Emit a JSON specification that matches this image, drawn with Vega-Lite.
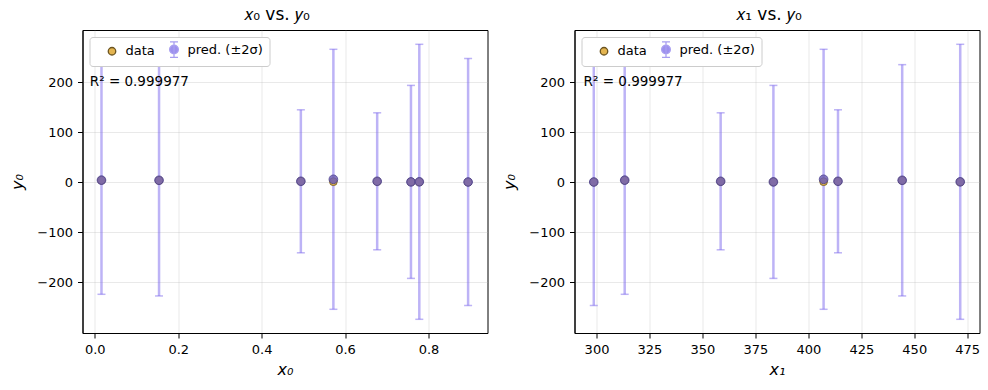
{
  "$schema": "https://vega.github.io/schema/vega-lite/v6.json",
  "background": "white",
  "padding": {"left": 8.5, "top": 5, "right": 5, "bottom": 3},
  "datasets": {
    "pts": [
      {"x0": 0.016, "x1": 313.3, "y": 4.0, "pred": 4.3, "err": 228.3},
      {"x0": 0.154, "x1": 444.3, "y": 3.8, "pred": 4.0, "err": 231.3},
      {"x0": 0.494, "x1": 414.0, "y": 2.0, "pred": 2.0, "err": 143.0},
      {"x0": 0.572, "x1": 407.2, "y": 1.2, "pred": 6.0, "err": 260.0},
      {"x0": 0.677, "x1": 358.6, "y": 1.8, "pred": 2.0, "err": 137.0},
      {"x0": 0.758, "x1": 383.5, "y": 0.8, "pred": 0.8, "err": 193.0},
      {"x0": 0.778, "x1": 471.7, "y": 0.8, "pred": 1.0, "err": 275.0},
      {"x0": 0.895, "x1": 298.7, "y": 0.4, "pred": 0.6, "err": 247.0}
    ],
    "keys": [{"k": "data"}, {"k": "pred. (±2σ)"}],
    "note": [{"label": "R² = 0.999977"}]
  },
  "config": {
    "font": "DejaVu Sans",
    "view": {"stroke": "black", "strokeWidth": 1},
    "axis": {
      "domainColor": "black", "tickColor": "black", "labelColor": "black",
      "labelFont": "DejaVu Sans", "labelFontSize": 13, "tickSize": 5, "labelPadding": 5,
      "gridColor": "#b0b0b0", "gridOpacity": 0.35, "gridWidth": 0.8,
      "titleFont": "DejaVu Sans", "titleFontSize": 16, "titleFontWeight": "normal",
      "titleColor": "black", "titleFontStyle": "italic"
    },
    "axisY": {"titlePadding": 11},
    "axisX": {"titlePadding": 5},
    "title": {"font": "DejaVu Sans", "fontSize": 17, "fontWeight": "normal", "color": "black", "offset": 6, "frame": "group", "dx": -8},
    "legend": {
      "orient": "top-left", "direction": "horizontal", "offset": 7, "padding": 6,
      "strokeColor": "#cccccc", "cornerRadius": 3, "fillColor": "white",
      "labelFont": "DejaVu Sans", "labelFontSize": 13, "labelColor": "black",
      "symbolSize": 100, "columnPadding": 2, "symbolOpacity": 1, "symbolOffset": 10, "labelOffset": 7,
      "symbolStrokeWidth": 1.3
    }
  },
  "resolve": {
    "scale": {"fill": "independent", "stroke": "independent", "shape": "independent"},
    "legend": {"fill": "independent", "stroke": "independent", "shape": "independent"}
  },
  "spacing": 12,
  "hconcat": [
    {
      "width": 405, "height": 303,
      "title": "𝑥₀ vs. 𝑦₀",
      "data": {"name": "pts"},
      "layer": [
        {
          "mark": {"type": "errorbar", "color": "#7b68ee", "opacity": 0.5, "thickness": 2.5, "ticks": {"size": 8, "thickness": 1.5}},
          "encoding": {
            "x": {"field": "x0", "type": "quantitative", "scale": {"domain": [-0.0295, 0.9415], "nice": false, "zero": false},
                  "axis": {"values": [0, 0.2, 0.4, 0.6, 0.8], "format": ".1f", "title": "x₀", "grid": true}},
            "y": {"field": "pred", "type": "quantitative", "scale": {"domain": [-301.4, 304.6], "nice": false},
                  "axis": {"values": [-200, -100, 0, 100, 200], "title": "y₀", "grid": true}},
            "yError": {"field": "err"}
          }
        },
        {
          "mark": {"type": "point", "filled": true, "size": 60, "opacity": 1, "fill": "#e3b450", "stroke": "#6b5420", "strokeWidth": 0.8},
          "encoding": {
            "x": {"field": "x0", "type": "quantitative"},
            "y": {"field": "y", "type": "quantitative"}
          }
        },
        {
          "mark": {"type": "point", "filled": true, "size": 75, "opacity": 0.85, "fill": "#6f5fb5", "stroke": "#4b3f8f", "strokeWidth": 1},
          "encoding": {
            "x": {"field": "x0", "type": "quantitative"},
            "y": {"field": "pred", "type": "quantitative"}
          }
        },
        {
          "data": {"name": "keys"},
          "mark": {"type": "point", "filled": true, "opacity": 0},
          "encoding": {
            "fill": {"field": "k", "type": "nominal", "scale": {"domain": ["data", "pred. (±2σ)"], "range": ["#e3b450", "#9d90ee"]}, "legend": {"title": null}},
            "stroke": {"field": "k", "type": "nominal", "scale": {"domain": ["data", "pred. (±2σ)"], "range": ["#6b5420", "#a89ef0"]}, "legend": {"title": null}},
            "shape": {"field": "k", "type": "nominal", "scale": {"domain": ["data", "pred. (±2σ)"], "range": ["M-0.75,0A0.75,0.75 0 1,1 0.75,0A0.75,0.75 0 1,1 -0.75,0Z", "M-0.87,0A0.87,0.87 0 1,1 0.87,0A0.87,0.87 0 1,1 -0.87,0ZM0,-1.55V1.55M-0.8,-1.55H0.8M-0.8,1.55H0.8"]}, "legend": {"title": null}}
          }
        },
        {
          "data": {"name": "note"},
          "mark": {"type": "text", "align": "left", "baseline": "middle", "fontSize": 13.5, "color": "black"},
          "encoding": {
            "x": {"datum": -0.012, "type": "quantitative"},
            "y": {"datum": 200, "type": "quantitative"},
            "text": {"field": "label"}
          }
        }
      ]
    },
    {
      "width": 405, "height": 303,
      "title": "𝑥₁ vs. 𝑦₀",
      "data": {"name": "pts"},
      "layer": [
        {
          "mark": {"type": "errorbar", "color": "#7b68ee", "opacity": 0.5, "thickness": 2.5, "ticks": {"size": 8, "thickness": 1.5}},
          "encoding": {
            "x": {"field": "x1", "type": "quantitative", "scale": {"domain": [289.6, 480.8], "nice": false, "zero": false},
                  "axis": {"values": [300, 325, 350, 375, 400, 425, 450, 475], "title": "x₁", "grid": true}},
            "y": {"field": "pred", "type": "quantitative", "scale": {"domain": [-301.4, 304.6], "nice": false},
                  "axis": {"values": [-200, -100, 0, 100, 200], "title": "y₀", "grid": true}},
            "yError": {"field": "err"}
          }
        },
        {
          "mark": {"type": "point", "filled": true, "size": 60, "opacity": 1, "fill": "#e3b450", "stroke": "#6b5420", "strokeWidth": 0.8},
          "encoding": {
            "x": {"field": "x1", "type": "quantitative"},
            "y": {"field": "y", "type": "quantitative"}
          }
        },
        {
          "mark": {"type": "point", "filled": true, "size": 75, "opacity": 0.85, "fill": "#6f5fb5", "stroke": "#4b3f8f", "strokeWidth": 1},
          "encoding": {
            "x": {"field": "x1", "type": "quantitative"},
            "y": {"field": "pred", "type": "quantitative"}
          }
        },
        {
          "data": {"name": "keys"},
          "mark": {"type": "point", "filled": true, "opacity": 0},
          "encoding": {
            "fill": {"field": "k", "type": "nominal", "scale": {"domain": ["data", "pred. (±2σ)"], "range": ["#e3b450", "#9d90ee"]}, "legend": {"title": null}},
            "stroke": {"field": "k", "type": "nominal", "scale": {"domain": ["data", "pred. (±2σ)"], "range": ["#6b5420", "#a89ef0"]}, "legend": {"title": null}},
            "shape": {"field": "k", "type": "nominal", "scale": {"domain": ["data", "pred. (±2σ)"], "range": ["M-0.75,0A0.75,0.75 0 1,1 0.75,0A0.75,0.75 0 1,1 -0.75,0Z", "M-0.87,0A0.87,0.87 0 1,1 0.87,0A0.87,0.87 0 1,1 -0.87,0ZM0,-1.55V1.55M-0.8,-1.55H0.8M-0.8,1.55H0.8"]}, "legend": {"title": null}}
          }
        },
        {
          "data": {"name": "note"},
          "mark": {"type": "text", "align": "left", "baseline": "middle", "fontSize": 13.5, "color": "black"},
          "encoding": {
            "x": {"datum": 293.9, "type": "quantitative"},
            "y": {"datum": 200, "type": "quantitative"},
            "text": {"field": "label"}
          }
        }
      ]
    }
  ]
}
